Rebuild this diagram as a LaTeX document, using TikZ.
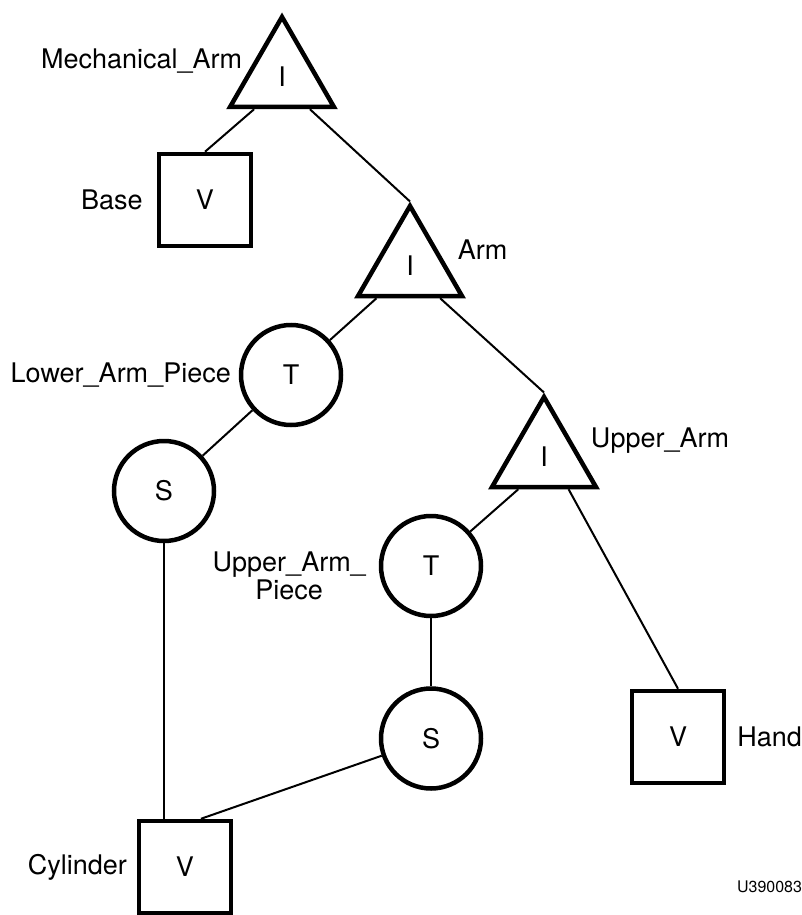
\documentclass[tikz,border=0pt]{standalone}
\usepackage{fontspec}
\setmainfont{TeX Gyre Heros}
\usetikzlibrary{shapes.geometric, positioning, calc}

\begin{document}
\begin{tikzpicture}[
    x=1pt, y=-1pt,
    font=\fontsize{27}{28}\selectfont,
    inode/.style={regular polygon, regular polygon sides=3, draw, line width=4.5pt, minimum size=120pt, inner sep=0pt},
    tnode/.style={circle, draw, line width=4.5pt, minimum size=100pt, inner sep=0pt},
    vnode/.style={rectangle, draw, line width=4.5pt, minimum size=92pt, inner sep=0pt},
    lbl/.style={inner sep=0pt, outer sep=0pt, align=center},
    link/.style={line width=2pt}
]
    \useasboundingbox (0,0) rectangle (801,915);

    \node[inode] (mech) at (282,77) {I};
    \node[vnode] (base) at (205,200) {V};
    \node[inode] (arm) at (410,266) {I};
    \node[tnode] (lowT) at (291,375) {T};
    \node[tnode] (lowS) at (164,491) {S};
    \node[inode] (upper) at (544,457) {I};
    \node[tnode] (upT) at (431,566) {T};
    \node[tnode, below=68pt of upT] (upS) {S};
    \node[vnode] (hand) at (678,737) {V};
    \node[vnode] (cyl) at (185,867) {V};

    \node[lbl, left=12pt of mech.side 1] (mechLbl) {Mechanical\_Arm};
    \node[lbl, left=14pt of base] (baseLbl) {Base};
    \node[lbl, right=20pt of arm.side 3] (armLbl) {Arm};
    \node[lbl, left=8pt of lowT] (lowTLbl) {Lower\_Arm\_Piece};
    \node[lbl, right=19pt of upper.side 3] (upperLbl) {Upper\_Arm};
    \node[lbl, left=13pt of upT, yshift=-10pt] (upTLbl) {Upper\_Arm\_\\Piece};
    \node[lbl, right=11pt of hand] (handLbl) {Hand};
    \node[lbl, left=10pt of cyl] (cylLbl) {Cylinder};
    \node[lbl, font=\fontsize{16}{18}\selectfont, anchor=east] (figId) at (802,887) {U390083};

    \draw[link] ($(mech.corner 2)!.25!(mech.corner 3)$) -- (base.north);
    \draw[link] ($(mech.corner 2)!.75!(mech.corner 3)$) -- (arm.north);
    \draw[link] ($(arm.corner 2)!.2!(arm.corner 3)$) -- (lowT);
    \draw[link] ($(arm.corner 2)!.77!(arm.corner 3)$) -- (upper.north);
    \draw[link] (lowT) -- (lowS);
    \draw[link] (lowS.south) -- (lowS.south |- cyl.north);
    \draw[link] ($(upper.corner 2)!.27!(upper.corner 3)$) -- (upT);
    \draw[link] ($(upper.corner 2)!.72!(upper.corner 3)$) -- (hand.north);
    \draw[link] (upT) -- (upS);
    \draw[link] (upS) -- ($(cyl.north)+(16,0)$);
\end{tikzpicture}
\end{document}
